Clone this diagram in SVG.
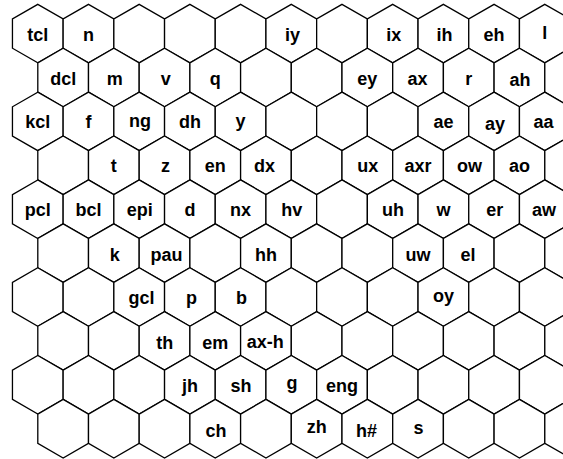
<svg xmlns="http://www.w3.org/2000/svg" xmlns:xlink="http://www.w3.org/1999/xlink" width="563" height="459" viewBox="0 0 563 459">
<style>
.h{fill:#fff;stroke:#000;stroke-width:1.3;stroke-linejoin:miter}
text{font-family:"Liberation Sans",Arial,sans-serif;font-weight:bold;font-size:18px;text-anchor:middle;fill:#000}
</style>
<defs>
<polygon id="hx" class="h" points="0,-29.27 25.35,-14.635 25.35,14.635 0,29.27 -25.35,14.635 -25.35,-14.635"/>
</defs>
<rect width="563" height="459" fill="#fff"/>
<g id="grid">
<!-- row 0 -->
<g id="r0c0"><use href="#hx" x="37.8" y="33.6"/><text x="37.8" y="40.6">tcl</text></g>
<g id="r0c1"><use href="#hx" x="88.5" y="33.6"/><text x="88.5" y="40.6">n</text></g>
<g id="r0c2"><use href="#hx" x="139.2" y="33.6"/></g>
<g id="r0c3"><use href="#hx" x="189.9" y="33.6"/></g>
<g id="r0c4"><use href="#hx" x="240.6" y="33.6"/></g>
<g id="r0c5"><use href="#hx" x="291.3" y="33.6"/><text x="292.5" y="40.6">iy</text></g>
<g id="r0c6"><use href="#hx" x="342" y="33.6"/></g>
<g id="r0c7"><use href="#hx" x="392.7" y="33.6"/><text x="393.7" y="40.6">ix</text></g>
<g id="r0c8"><use href="#hx" x="443.4" y="33.6"/><text x="444.4" y="40.6">ih</text></g>
<g id="r0c9"><use href="#hx" x="494.1" y="33.6"/><text x="494.1" y="40.6">eh</text></g>
<g id="r0c10"><use href="#hx" x="544.8" y="33.6"/><text x="544.8" y="39.3">l</text></g>
<!-- row 1 -->
<g id="r1c0"><use href="#hx" x="63.15" y="77.5"/><text x="63.15" y="84.5">dcl</text></g>
<g id="r1c1"><use href="#hx" x="113.85" y="77.5"/><text x="114.8" y="84.5">m</text></g>
<g id="r1c2"><use href="#hx" x="164.55" y="77.5"/><text x="165.8" y="84.5">v</text></g>
<g id="r1c3"><use href="#hx" x="215.25" y="77.5"/><text x="215.25" y="84.5">q</text></g>
<g id="r1c4"><use href="#hx" x="265.95" y="77.5"/></g>
<g id="r1c5"><use href="#hx" x="316.65" y="77.5"/></g>
<g id="r1c6"><use href="#hx" x="367.35" y="77.5"/><text x="367.35" y="84.5">ey</text></g>
<g id="r1c7"><use href="#hx" x="418.05" y="77.5"/><text x="417.5" y="84.5">ax</text></g>
<g id="r1c8"><use href="#hx" x="468.75" y="77.5"/><text x="468.75" y="84.5">r</text></g>
<g id="r1c9"><use href="#hx" x="519.45" y="77.5"/><text x="520" y="86">ah</text></g>
<g id="r1c10"><use href="#hx" x="570.15" y="77.5"/></g>
<!-- row 2 -->
<g id="r2c0"><use href="#hx" x="37.8" y="121.4"/><text x="37.8" y="128.4">kcl</text></g>
<g id="r2c1"><use href="#hx" x="88.5" y="121.4"/><text x="88.5" y="128.4">f</text></g>
<g id="r2c2"><use href="#hx" x="139.2" y="121.4"/><text x="140" y="127.4">ng</text></g>
<g id="r2c3"><use href="#hx" x="189.9" y="121.4"/><text x="189.9" y="128.4">dh</text></g>
<g id="r2c4"><use href="#hx" x="240.6" y="121.4"/><text x="240.6" y="127.4">y</text></g>
<g id="r2c5"><use href="#hx" x="291.3" y="121.4"/></g>
<g id="r2c6"><use href="#hx" x="342" y="121.4"/></g>
<g id="r2c7"><use href="#hx" x="392.7" y="121.4"/></g>
<g id="r2c8"><use href="#hx" x="443.4" y="121.4"/><text x="443.4" y="128.4">ae</text></g>
<g id="r2c9"><use href="#hx" x="494.1" y="121.4"/><text x="495" y="129.8">ay</text></g>
<g id="r2c10"><use href="#hx" x="544.8" y="121.4"/><text x="543.5" y="128.4">aa</text></g>
<!-- row 3 -->
<g id="r3c0"><use href="#hx" x="63.15" y="165.3"/></g>
<g id="r3c1"><use href="#hx" x="113.85" y="165.3"/><text x="113.85" y="172.3">t</text></g>
<g id="r3c2"><use href="#hx" x="164.55" y="165.3"/><text x="165.5" y="172.3">z</text></g>
<g id="r3c3"><use href="#hx" x="215.25" y="165.3"/><text x="215.25" y="172.3">en</text></g>
<g id="r3c4"><use href="#hx" x="265.95" y="165.3"/><text x="264.5" y="172.3">dx</text></g>
<g id="r3c5"><use href="#hx" x="316.65" y="165.3"/></g>
<g id="r3c6"><use href="#hx" x="367.35" y="165.3"/><text x="367.8" y="172.3">ux</text></g>
<g id="r3c7"><use href="#hx" x="418.05" y="165.3"/><text x="418.05" y="172.3">axr</text></g>
<g id="r3c8"><use href="#hx" x="468.75" y="165.3"/><text x="469.5" y="172.3">ow</text></g>
<g id="r3c9"><use href="#hx" x="519.45" y="165.3"/><text x="519.45" y="172.3">ao</text></g>
<g id="r3c10"><use href="#hx" x="570.15" y="165.3"/></g>
<!-- row 4 -->
<g id="r4c0"><use href="#hx" x="37.8" y="209.2"/><text x="37.8" y="216.2">pcl</text></g>
<g id="r4c1"><use href="#hx" x="88.5" y="209.2"/><text x="88.5" y="216.2">bcl</text></g>
<g id="r4c2"><use href="#hx" x="139.2" y="209.2"/><text x="139.8" y="216.2">epi</text></g>
<g id="r4c3"><use href="#hx" x="189.9" y="209.2"/><text x="189.9" y="216.2">d</text></g>
<g id="r4c4"><use href="#hx" x="240.6" y="209.2"/><text x="240.6" y="216.2">nx</text></g>
<g id="r4c5"><use href="#hx" x="291.3" y="209.2"/><text x="291.8" y="216.2">hv</text></g>
<g id="r4c6"><use href="#hx" x="342" y="209.2"/></g>
<g id="r4c7"><use href="#hx" x="392.7" y="209.2"/><text x="393" y="216.2">uh</text></g>
<g id="r4c8"><use href="#hx" x="443.4" y="209.2"/><text x="443.4" y="216.2">w</text></g>
<g id="r4c9"><use href="#hx" x="494.1" y="209.2"/><text x="494.8" y="216.2">er</text></g>
<g id="r4c10"><use href="#hx" x="544.8" y="209.2"/><text x="544" y="216.2">aw</text></g>
<!-- row 5 -->
<g id="r5c0"><use href="#hx" x="63.15" y="253.1"/></g>
<g id="r5c1"><use href="#hx" x="113.85" y="253.1"/><text x="114.8" y="260.6">k</text></g>
<g id="r5c2"><use href="#hx" x="164.55" y="253.1"/><text x="166.5" y="260.6">pau</text></g>
<g id="r5c3"><use href="#hx" x="215.25" y="253.1"/></g>
<g id="r5c4"><use href="#hx" x="265.95" y="253.1"/><text x="265.95" y="260.6">hh</text></g>
<g id="r5c5"><use href="#hx" x="316.65" y="253.1"/></g>
<g id="r5c6"><use href="#hx" x="367.35" y="253.1"/></g>
<g id="r5c7"><use href="#hx" x="418.05" y="253.1"/><text x="418.05" y="260.6">uw</text></g>
<g id="r5c8"><use href="#hx" x="468.75" y="253.1"/><text x="468" y="260.6">el</text></g>
<g id="r5c9"><use href="#hx" x="519.45" y="253.1"/></g>
<g id="r5c10"><use href="#hx" x="570.15" y="253.1"/></g>
<!-- row 6 -->
<g id="r6c0"><use href="#hx" x="37.8" y="297"/></g>
<g id="r6c1"><use href="#hx" x="88.5" y="297"/></g>
<g id="r6c2"><use href="#hx" x="139.2" y="297"/><text x="141.5" y="304">gcl</text></g>
<g id="r6c3"><use href="#hx" x="189.9" y="297"/><text x="191.5" y="303.5">p</text></g>
<g id="r6c4"><use href="#hx" x="240.6" y="297"/><text x="241.5" y="303.5">b</text></g>
<g id="r6c5"><use href="#hx" x="291.3" y="297"/></g>
<g id="r6c6"><use href="#hx" x="342" y="297"/></g>
<g id="r6c7"><use href="#hx" x="392.7" y="297"/></g>
<g id="r6c8"><use href="#hx" x="443.4" y="297"/><text x="443.4" y="301.7">oy</text></g>
<g id="r6c9"><use href="#hx" x="494.1" y="297"/></g>
<g id="r6c10"><use href="#hx" x="544.8" y="297"/></g>
<!-- row 7 -->
<g id="r7c0"><use href="#hx" x="63.15" y="340.9"/></g>
<g id="r7c1"><use href="#hx" x="113.85" y="340.9"/></g>
<g id="r7c2"><use href="#hx" x="164.55" y="340.9"/><text x="164.8" y="348.7">th</text></g>
<g id="r7c3"><use href="#hx" x="215.25" y="340.9"/><text x="215.25" y="349">em</text></g>
<g id="r7c4"><use href="#hx" x="265.95" y="340.9"/><text x="265.2" y="348.3">ax-h</text></g>
<g id="r7c5"><use href="#hx" x="316.65" y="340.9"/></g>
<g id="r7c6"><use href="#hx" x="367.35" y="340.9"/></g>
<g id="r7c7"><use href="#hx" x="418.05" y="340.9"/></g>
<g id="r7c8"><use href="#hx" x="468.75" y="340.9"/></g>
<g id="r7c9"><use href="#hx" x="519.45" y="340.9"/></g>
<g id="r7c10"><use href="#hx" x="570.15" y="340.9"/></g>
<!-- row 8 -->
<g id="r8c0"><use href="#hx" x="37.8" y="384.8"/></g>
<g id="r8c1"><use href="#hx" x="88.5" y="384.8"/></g>
<g id="r8c2"><use href="#hx" x="139.2" y="384.8"/></g>
<g id="r8c3"><use href="#hx" x="189.9" y="384.8"/><text x="189.9" y="392">jh</text></g>
<g id="r8c4"><use href="#hx" x="240.6" y="384.8"/><text x="241" y="391.7">sh</text></g>
<g id="r8c5"><use href="#hx" x="291.3" y="384.8"/><text x="292" y="389.3">g</text></g>
<g id="r8c6"><use href="#hx" x="342" y="384.8"/><text x="342" y="391.7">eng</text></g>
<g id="r8c7"><use href="#hx" x="392.7" y="384.8"/></g>
<g id="r8c8"><use href="#hx" x="443.4" y="384.8"/></g>
<g id="r8c9"><use href="#hx" x="494.1" y="384.8"/></g>
<g id="r8c10"><use href="#hx" x="544.8" y="384.8"/></g>
<!-- row 9 -->
<g id="r9c0"><use href="#hx" x="63.15" y="428.7"/></g>
<g id="r9c1"><use href="#hx" x="113.85" y="428.7"/></g>
<g id="r9c2"><use href="#hx" x="164.55" y="428.7"/></g>
<g id="r9c3"><use href="#hx" x="215.25" y="428.7"/><text x="216" y="436.7">ch</text></g>
<g id="r9c4"><use href="#hx" x="265.95" y="428.7"/></g>
<g id="r9c5"><use href="#hx" x="316.65" y="428.7"/><text x="316.65" y="433.3">zh</text></g>
<g id="r9c6"><use href="#hx" x="367.35" y="428.7"/><text x="366.5" y="436.7">h#</text></g>
<g id="r9c7"><use href="#hx" x="418.05" y="428.7"/><text x="418.5" y="434">s</text></g>
<g id="r9c8"><use href="#hx" x="468.75" y="428.7"/></g>
<g id="r9c9"><use href="#hx" x="519.45" y="428.7"/></g>
<g id="r9c10"><use href="#hx" x="570.15" y="428.7"/></g>
</g>
</svg>
